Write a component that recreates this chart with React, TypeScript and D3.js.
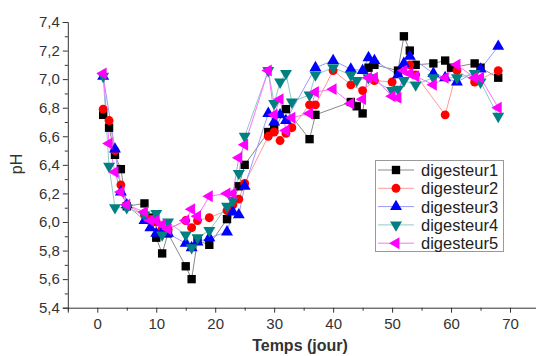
import React, { useEffect, useRef } from "react";
import * as d3 from "d3";

// [jour, pH] per digesteur
const digesteur1 = [[1,6.75],[2,6.66],[3,6.47],[4,6.37],[5,6.11],[8,6.13],[9,6.03],[10,5.89],[11,5.78],[12,5.92],[15,5.69],[16,5.60],[17,5.87],[19,5.84],[22,6.02],[24,6.25],[25,6.40],[29,6.63],[30,6.65],[32,6.79],[36,6.58],[37,6.75],[43,6.84],[44,6.81],[45,6.76],[46,7.08],[47,7.10],[51,7.06],[52,7.30],[53,7.20],[54,7.10],[57,7.11],[59,7.13],[60,7.08],[64,7.11],[65,7.08],[68,7.01]];
const digesteur2 = [[1,6.79],[2,6.71],[3,6.50],[4,6.26],[5,6.12],[8,6.05],[9,6.02],[10,6.00],[11,5.95],[12,5.95],[15,6.01],[16,5.96],[17,6.01],[19,6.03],[22,6.08],[23,6.12],[24,6.16],[25,6.27],[29,6.60],[30,6.63],[31,6.57],[32,6.62],[33,6.66],[36,6.82],[37,6.82],[40,7.06],[43,6.96],[45,6.92],[47,6.99],[50,6.98],[53,7.10],[54,7.03],[59,6.75],[61,7.06],[64,6.98],[68,7.06]];
const digesteur3 = [[1,7.02],[3,6.51],[4,6.21],[5,6.12],[8,6.01],[9,5.96],[10,5.92],[11,5.93],[12,5.92],[15,5.85],[16,5.82],[17,5.86],[19,5.89],[22,5.93],[23,6.07],[24,6.05],[25,6.25],[29,6.76],[30,6.70],[31,6.75],[32,6.71],[37,7.08],[40,7.13],[43,7.07],[45,7.06],[46,7.15],[47,7.13],[51,7.03],[52,7.11],[53,7.16],[57,7.04],[59,7.01],[61,6.98],[65,7.07],[68,7.23]];
const digesteur4 = [[1,7.02],[2,6.39],[3,6.10],[5,6.10],[8,6.05],[10,6.06],[11,5.91],[12,6.00],[15,5.91],[16,5.82],[17,5.89],[19,5.94],[22,6.11],[23,6.15],[24,6.34],[25,6.60],[29,7.06],[30,6.83],[31,6.98],[32,7.04],[33,6.84],[36,6.89],[37,7.03],[40,7.08],[43,7.03],[44,6.99],[46,7.01],[50,6.92],[51,6.93],[52,6.99],[54,6.96],[57,7.01],[61,7.01],[64,7.04],[65,6.98],[68,6.74]];
const digesteur5 = [[1,7.04],[2,6.55],[3,6.35],[4,6.21],[5,6.12],[8,6.07],[9,6.01],[10,6.01],[11,5.98],[12,5.95],[15,6.01],[16,6.09],[17,6.04],[19,6.18],[22,6.20],[23,6.20],[24,6.45],[25,6.54],[29,7.06],[30,6.75],[31,6.86],[32,6.64],[33,6.73],[36,6.76],[37,6.91],[40,6.93],[43,6.83],[45,6.86],[46,7.01],[47,7.01],[50,6.88],[51,6.87],[52,7.06],[53,7.04],[54,7.02],[57,6.96],[59,7.01],[61,7.10],[64,7.01],[65,7.01],[68,6.80]];

const names = ["digesteur1", "digesteur2", "digesteur3", "digesteur4", "digesteur5"];
const xTicks = [0, 10, 20, 30, 40, 50, 60, 70];
const yTicks = [5.4, 5.6, 5.8, 6.0, 6.2, 6.4, 6.6, 6.8, 7.0, 7.2, 7.4];

export default function App() {
  const ref = useRef<SVGSVGElement>(null);

  useEffect(() => {
    const svg = d3.select(ref.current);
    svg.selectAll("*").remove();

    const x = d3.scaleLinear().domain([-5, 75]).range([67.8, 539.5]);
    const y = d3.scaleLinear().domain([5.4, 7.4]).range([307.7, 22]);
    const font = "Liberation Sans, Arial, sans-serif";

    const series = [digesteur1, digesteur2, digesteur3, digesteur4, digesteur5];
    const lineCol = ["#8a8a8a", "#ff9a9a", "#9a9aff", "#8fcaca", "#ff70ff"];
    const markCol = ["#000000", "#ff0000", "#0000ff", "#008080", "#ff00ff"];
    const symbols = [d3.symbolSquare, d3.symbolCircle, d3.symbolTriangle, d3.symbolTriangle, d3.symbolTriangle];
    const rotate = [0, 0, 0, 180, -90];
    const sizes = [70, 62, 62, 62, 62];

    // axes
    const xAxis = svg.append("g")
      .attr("transform", "translate(0," + y(5.4) + ")")
      .call(d3.axisBottom(x).tickValues(xTicks).tickSize(5).tickFormat(d3.format("d")));
    xAxis.select(".domain").attr("stroke", "#333");
    xAxis.selectAll(".tick line").attr("stroke", "#333");
    xAxis.selectAll(".tick text").attr("font-size", 15).attr("font-family", font).attr("fill", "#333").attr("dy", "0.9em");
    svg.append("g")
      .attr("transform", "translate(0," + y(5.4) + ")")
      .call(d3.axisBottom(x).tickValues(d3.range(-5, 76, 10)).tickSize(3).tickFormat(() => ""))
      .call(g => g.select(".domain").remove())
      .selectAll("line").attr("stroke", "#333");

    const fmt = (v: number) => v.toFixed(1).replace(".", ",");
    const yAxis = svg.append("g")
      .attr("transform", "translate(" + x(-5) + ",0)")
      .call(d3.axisLeft(y).tickValues(yTicks).tickSize(5).tickFormat(d => fmt(+d)));
    yAxis.select(".domain").attr("stroke", "#333");
    yAxis.selectAll(".tick line").attr("stroke", "#333");
    yAxis.selectAll(".tick text").attr("font-size", 15).attr("font-family", font).attr("fill", "#333");
    svg.append("g")
      .attr("transform", "translate(" + x(-5) + ",0)")
      .call(d3.axisLeft(y).tickValues(d3.range(5.5, 7.45, 0.2)).tickSize(3).tickFormat(() => ""))
      .call(g => g.select(".domain").remove())
      .selectAll("line").attr("stroke", "#333");

    // axis titles
    svg.append("text")
      .attr("x", 300).attr("y", 351)
      .attr("text-anchor", "middle")
      .attr("font-family", font).attr("font-size", 16).attr("font-weight", "bold").attr("fill", "#333")
      .text("Temps (jour)");
    svg.append("text")
      .attr("transform", "translate(22,164) rotate(-90)")
      .attr("text-anchor", "middle")
      .attr("font-family", font).attr("font-size", 16).attr("fill", "#333")
      .text("pH");

    const line = d3.line<number[]>().x(d => x(d[0])).y(d => y(d[1]));

    series.forEach((data, i) => {
      svg.append("path")
        .attr("d", line(data))
        .attr("fill", "none")
        .attr("stroke", lineCol[i])
        .attr("stroke-width", 1);
    });
    series.forEach((data, i) => {
      const sym = d3.symbol().type(symbols[i]).size(sizes[i]);
      svg.append("g").selectAll("path")
        .data(data).enter().append("path")
        .attr("d", sym)
        .attr("transform", d => "translate(" + x(d[0]) + "," + y(d[1]) + ") rotate(" + rotate[i] + ")")
        .attr("fill", markCol[i]);
    });

    // legend
    const lg = svg.append("g");
    lg.append("rect")
      .attr("x", 375.5).attr("y", 160.5).attr("width", 128).attr("height", 91)
      .attr("fill", "white").attr("stroke", "#999");
    names.forEach((n, i) => {
      const ly = 170 + i * 18.3;
      lg.append("line").attr("x1", 378).attr("x2", 414).attr("y1", ly).attr("y2", ly)
        .attr("stroke", lineCol[i]).attr("stroke-width", 1);
      lg.append("path")
        .attr("d", d3.symbol().type(symbols[i]).size(sizes[i])())
        .attr("transform", "translate(396," + ly + ") rotate(" + rotate[i] + ")")
        .attr("fill", markCol[i]);
      lg.append("text")
        .attr("x", 421).attr("y", ly + 6)
        .attr("font-family", font).attr("font-size", 16.5).attr("fill", "#222")
        .text(n);
    });
  }, []);

  return (
    <svg ref={ref} width={536} height={356}
      style={{ position: "absolute", left: 0, top: 0, background: "white" }} />
  );
}
